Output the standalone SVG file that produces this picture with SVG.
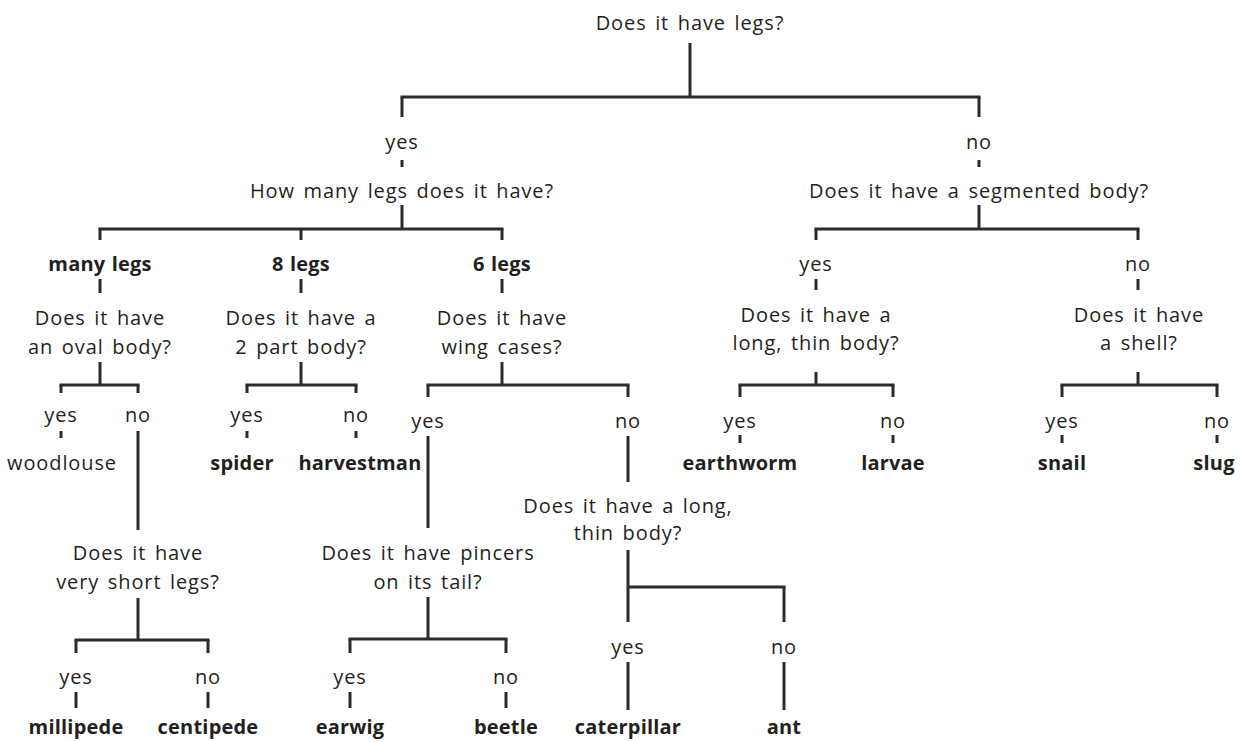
<svg xmlns="http://www.w3.org/2000/svg" width="1240" height="742" viewBox="0 0 1240 742">
<style>
text{font-family:"Open Sans","Noto Sans","DejaVu Sans",sans-serif;font-size:20px;fill:#231f20;text-anchor:middle;letter-spacing:0.9px;word-spacing:2.5px}
.b{font-weight:700;letter-spacing:0.2px;word-spacing:1px}
.c line{stroke:#2b2b2b;stroke-width:3;stroke-linecap:butt}
</style>
<rect width="1240" height="742" fill="#ffffff"/>
<g class="c" id="connectors">
<line x1="690" y1="43" x2="690" y2="97"/>
<line x1="400.5" y1="97" x2="980.5" y2="97"/>
<line x1="402" y1="97" x2="402" y2="117"/>
<line x1="979" y1="97" x2="979" y2="117"/>
<line x1="402" y1="160" x2="402" y2="167"/>
<line x1="979" y1="160" x2="979" y2="167"/>
<line x1="402" y1="205" x2="402" y2="229"/>
<line x1="98.5" y1="229" x2="503.5" y2="229"/>
<line x1="100" y1="229" x2="100" y2="240"/>
<line x1="301" y1="229" x2="301" y2="240"/>
<line x1="502" y1="229" x2="502" y2="240"/>
<line x1="979" y1="205" x2="979" y2="229"/>
<line x1="814.5" y1="229" x2="1139.5" y2="229"/>
<line x1="816" y1="229" x2="816" y2="240"/>
<line x1="1138" y1="229" x2="1138" y2="240"/>
<line x1="100" y1="279" x2="100" y2="293"/>
<line x1="301" y1="279" x2="301" y2="293"/>
<line x1="502" y1="279" x2="502" y2="293"/>
<line x1="816" y1="279" x2="816" y2="290"/>
<line x1="1138" y1="279" x2="1138" y2="290"/>
<line x1="100" y1="362" x2="100" y2="385"/>
<line x1="59.5" y1="385" x2="139.5" y2="385"/>
<line x1="61" y1="385" x2="61" y2="393"/>
<line x1="138" y1="385" x2="138" y2="393"/>
<line x1="61" y1="431" x2="61" y2="438"/>
<line x1="138" y1="431" x2="138" y2="530"/>
<line x1="301" y1="362" x2="301" y2="385"/>
<line x1="245.5" y1="385" x2="357.5" y2="385"/>
<line x1="247" y1="385" x2="247" y2="393"/>
<line x1="356" y1="385" x2="356" y2="393"/>
<line x1="247" y1="431" x2="247" y2="438"/>
<line x1="356" y1="431" x2="356" y2="438"/>
<line x1="502" y1="362" x2="502" y2="385"/>
<line x1="426.5" y1="385" x2="629.5" y2="385"/>
<line x1="428" y1="385" x2="428" y2="397"/>
<line x1="628" y1="385" x2="628" y2="397"/>
<line x1="428" y1="436" x2="428" y2="528"/>
<line x1="628" y1="436" x2="628" y2="482"/>
<line x1="816" y1="372" x2="816" y2="385"/>
<line x1="738.5" y1="385" x2="894.5" y2="385"/>
<line x1="740" y1="385" x2="740" y2="397"/>
<line x1="893" y1="385" x2="893" y2="397"/>
<line x1="740" y1="435" x2="740" y2="443"/>
<line x1="893" y1="435" x2="893" y2="443"/>
<line x1="1138" y1="372" x2="1138" y2="385"/>
<line x1="1060.5" y1="385" x2="1218.5" y2="385"/>
<line x1="1062" y1="385" x2="1062" y2="397"/>
<line x1="1217" y1="385" x2="1217" y2="397"/>
<line x1="1062" y1="435" x2="1062" y2="443"/>
<line x1="1217" y1="435" x2="1217" y2="443"/>
<line x1="138" y1="598" x2="138" y2="640"/>
<line x1="74.5" y1="640" x2="209.5" y2="640"/>
<line x1="76" y1="640" x2="76" y2="653"/>
<line x1="208" y1="640" x2="208" y2="653"/>
<line x1="76" y1="692" x2="76" y2="708"/>
<line x1="208" y1="692" x2="208" y2="708"/>
<line x1="428" y1="597" x2="428" y2="639"/>
<line x1="348.5" y1="639" x2="507.5" y2="639"/>
<line x1="350" y1="639" x2="350" y2="653"/>
<line x1="506" y1="639" x2="506" y2="653"/>
<line x1="350" y1="692" x2="350" y2="708"/>
<line x1="506" y1="692" x2="506" y2="708"/>
<line x1="628" y1="550" x2="628" y2="622"/>
<line x1="628" y1="587" x2="785.5" y2="587"/>
<line x1="784" y1="587" x2="784" y2="622"/>
<line x1="628" y1="662" x2="628" y2="710"/>
<line x1="784" y1="662" x2="784" y2="710"/>
</g>
<g id="q-legs"><text x="690" y="30">Does it have legs?</text></g>
<g id="a-legs-yes"><text x="402" y="149">yes</text></g>
<g id="a-legs-no"><text x="979" y="149">no</text></g>
<g id="q-how-many"><text x="402" y="198">How many legs does it have?</text></g>
<g id="q-segmented"><text x="979" y="198">Does it have a segmented body?</text></g>
<g id="a-many"><text class="b" x="100" y="271">many legs</text></g>
<g id="a-8"><text class="b" x="301" y="271">8 legs</text></g>
<g id="a-6"><text class="b" x="502" y="271">6 legs</text></g>
<g id="a-seg-yes"><text x="816" y="271">yes</text></g>
<g id="a-seg-no"><text x="1138" y="271">no</text></g>
<g id="q-oval"><text x="100" y="325">Does it have</text><text x="100" y="354">an oval body?</text></g>
<g id="q-2part"><text x="301" y="325">Does it have a</text><text x="301" y="354">2 part body?</text></g>
<g id="q-wing"><text x="502" y="325">Does it have</text><text x="502" y="354">wing cases?</text></g>
<g id="q-longthin-1"><text x="816" y="322">Does it have a</text><text x="816" y="350">long, thin body?</text></g>
<g id="q-shell"><text x="1139" y="322">Does it have</text><text x="1139" y="350">a shell?</text></g>
<g id="a-oval-yes"><text x="61" y="422">yes</text></g>
<g id="a-oval-no"><text x="138" y="422">no</text></g>
<g id="a-2part-yes"><text x="247" y="422">yes</text></g>
<g id="a-2part-no"><text x="356" y="422">no</text></g>
<g id="a-wing-yes"><text x="428" y="428">yes</text></g>
<g id="a-wing-no"><text x="628" y="428">no</text></g>
<g id="a-lt1-yes"><text x="740" y="428">yes</text></g>
<g id="a-lt1-no"><text x="893" y="428">no</text></g>
<g id="a-shell-yes"><text x="1062" y="428">yes</text></g>
<g id="a-shell-no"><text x="1217" y="428">no</text></g>
<g id="woodlouse"><text x="62" y="470">woodlouse</text></g>
<g id="spider"><text class="b" x="242" y="470">spider</text></g>
<g id="harvestman"><text class="b" x="360" y="470">harvestman</text></g>
<g id="earthworm"><text class="b" x="740" y="470">earthworm</text></g>
<g id="larvae"><text class="b" x="893" y="470">larvae</text></g>
<g id="snail"><text class="b" x="1062" y="470">snail</text></g>
<g id="slug"><text class="b" x="1214" y="470">slug</text></g>
<g id="q-longthin-2"><text x="628" y="513">Does it have a long,</text><text x="628" y="540">thin body?</text></g>
<g id="q-shortlegs"><text x="138" y="560">Does it have</text><text x="138" y="589">very short legs?</text></g>
<g id="q-pincers"><text x="428" y="560">Does it have pincers</text><text x="428" y="589">on its tail?</text></g>
<g id="a-lt2-yes"><text x="628" y="654">yes</text></g>
<g id="a-lt2-no"><text x="784" y="654">no</text></g>
<g id="a-short-yes"><text x="76" y="684">yes</text></g>
<g id="a-short-no"><text x="208" y="684">no</text></g>
<g id="a-pincers-yes"><text x="350" y="684">yes</text></g>
<g id="a-pincers-no"><text x="506" y="684">no</text></g>
<g id="millipede"><text class="b" x="76" y="734">millipede</text></g>
<g id="centipede"><text class="b" x="208" y="734">centipede</text></g>
<g id="earwig"><text class="b" x="350" y="734">earwig</text></g>
<g id="beetle"><text class="b" x="506" y="734">beetle</text></g>
<g id="caterpillar"><text class="b" x="628" y="734">caterpillar</text></g>
<g id="ant"><text class="b" x="784" y="734">ant</text></g>
</svg>
